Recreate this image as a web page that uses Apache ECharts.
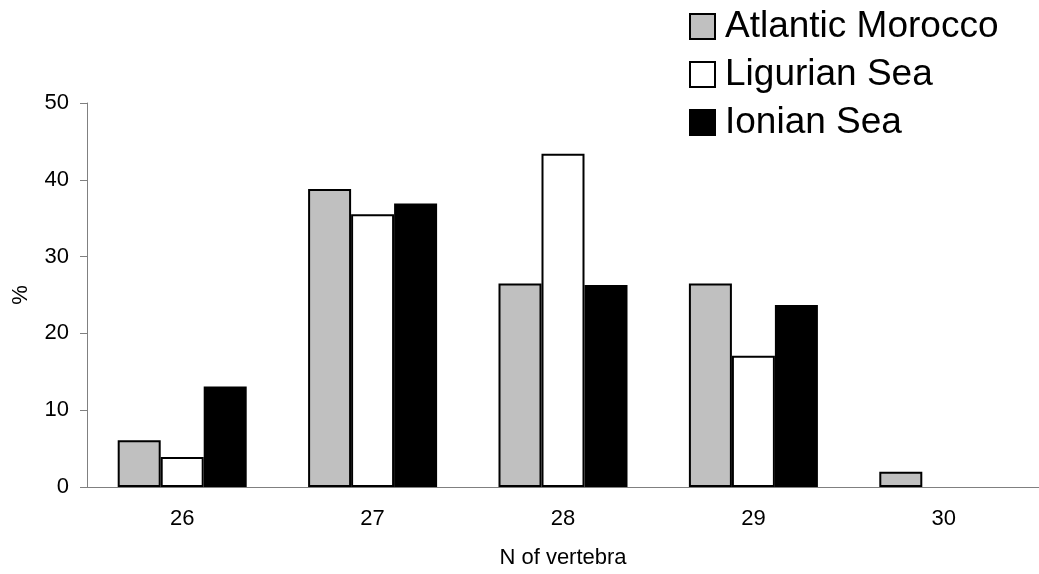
<!DOCTYPE html>
<html>
<head>
<meta charset="utf-8">
<script src="https://cdn.jsdelivr.net/npm/echarts@6/dist/echarts.min.js"></script>
<style>html,body{margin:0;padding:0;background:#fff}#c{width:1039px;height:574px}</style>
</head>
<body>
<div id="c"></div>
<script>
const categories = ['26', '27', '28', '29', '30'];
const atlanticMorocco = [6.1, 38.8, 26.5, 26.5, 2.0];
const ligurianSea = [3.9, 35.5, 43.4, 17.1, null];
const ionianSea = [13.1, 36.9, 26.3, 23.7, null];
const yTicks = [0, 10, 20, 30, 40, 50];

const chart = echarts.init(document.getElementById('c'), null, {renderer: 'canvas'});
const font = 'Liberation Sans, Arial, sans-serif';
function bar(name, data, color) {
  return {
    name, type: 'bar', data,
    barWidth: 43, barGap: '0%',
    itemStyle: {color, borderColor: '#000', borderWidth: 2},
    emphasis: {disabled: true}
  };
}
chart.setOption({
  animation: false,
  backgroundColor: '#fff',
  textStyle: {fontFamily: font},
  grid: {left: 87, top: 103, width: 958, height: 386},
  legend: {
    orient: 'vertical', left: 689, top: 8, padding: 0,
    icon: 'rect',
    itemWidth: 25, itemHeight: 25, itemGap: 11,
    textStyle: {fontSize: 37, color: '#000', fontFamily: font, lineHeight: 36, padding: [0, 0, 0, 5]},
    data: ['Atlantic Morocco', 'Ligurian Sea', 'Ionian Sea']
  },
  xAxis: {
    type: 'category', data: categories,
    name: 'N of vertebra', nameLocation: 'middle', nameGap: 60,
    nameTextStyle: {fontSize: 22, color: '#000', fontFamily: font},
    axisLine: {lineStyle: {color: '#808080', width: 1}},
    axisTick: {length: 8, lineStyle: {color: '#808080'}},
    axisLabel: {fontSize: 22, color: '#000', margin: 21, fontFamily: font}
  },
  yAxis: {
    type: 'value', min: yTicks[0], max: yTicks[yTicks.length - 1], interval: 10,
    name: '%', nameLocation: 'middle', nameGap: 55, nameRotate: 90,
    nameTextStyle: {fontSize: 22, color: '#000', fontFamily: font},
    splitLine: {show: false},
    axisLine: {show: true, lineStyle: {color: '#808080', width: 1}},
    axisTick: {show: true, length: 7, lineStyle: {color: '#808080'}},
    axisLabel: {fontSize: 22, color: '#000', margin: 18, fontFamily: font}
  },
  series: [
    bar('Atlantic Morocco', atlanticMorocco, '#c0c0c0'),
    bar('Ligurian Sea', ligurianSea, '#ffffff'),
    bar('Ionian Sea', ionianSea, '#000000')
  ]
});
</script>
</body>
</html>
